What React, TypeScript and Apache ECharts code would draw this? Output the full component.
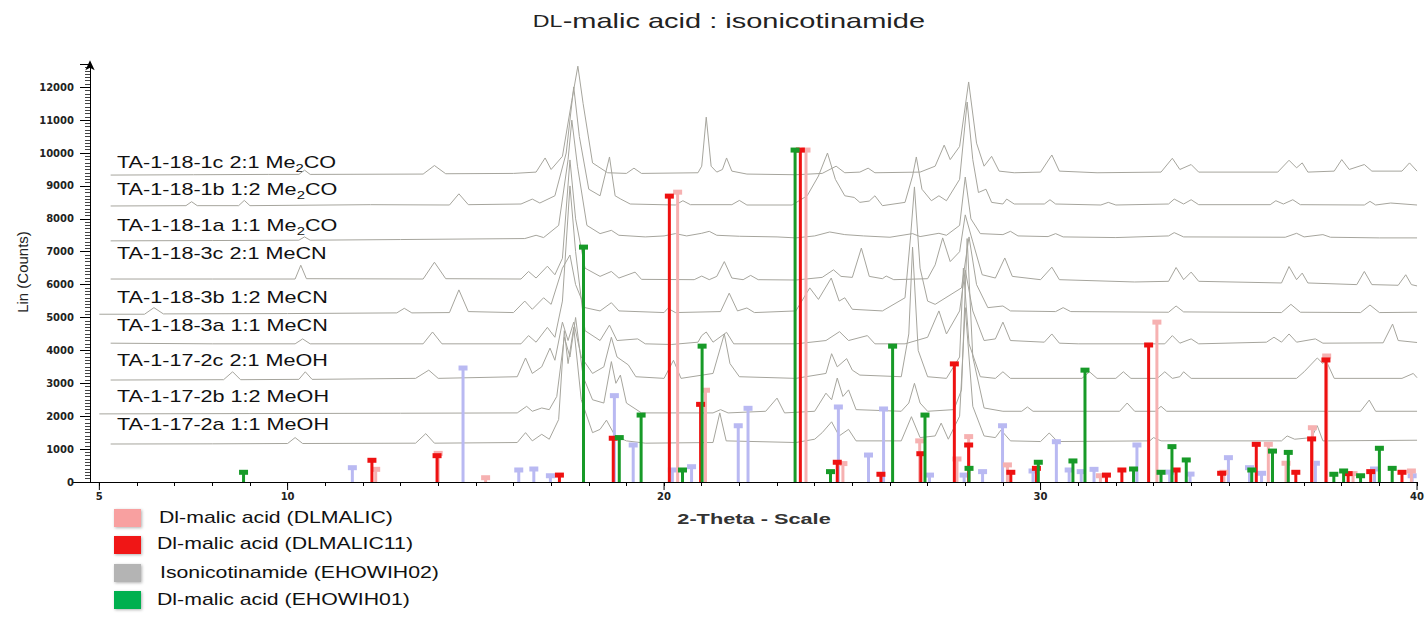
import React, { useEffect, useRef } from 'react';
import * as echarts from 'echarts';

const FONT = "'Liberation Sans', Arial, sans-serif";
const AXFONT = "'DejaVu Sans', sans-serif";

// ---- axis ticks / labels ----
const xLabelValues = [5, 10, 20, 30, 40];
const xMajorTicks = [5, 10, 20, 30, 40];

// ---- measured powder patterns: [2-theta, counts] ----
const trace1c: number[][] = [[5.3,9330],[7.5,9340],[9.5,9350],[10.3,9350],[10.45,9480],[10.6,9350],[13.6,9360],[13.9,9620],[14.2,9370],[16.0,9380],[16.6,9420],[16.84,9850],[17.0,9500],[17.3,9900],[17.55,11600],[17.71,12640],[17.85,11500],[18.1,9700],[18.5,9400],[19.0,9380],[19.2,9540],[19.4,9380],[20.9,9400],[21.0,9600],[21.12,11090],[21.25,9600],[21.4,9420],[21.55,9500],[21.66,9850],[21.8,9450],[22.2,9360],[23.5,9340],[24.2,9380],[24.57,9600],[24.8,9400],[25.2,9420],[25.42,9540],[25.6,9400],[26.8,9420],[27.2,9600],[27.44,10240],[27.6,9800],[27.85,10200],[28.09,12160],[28.3,10300],[28.5,9600],[28.7,9900],[28.9,9450],[29.3,9400],[30.0,9420],[30.3,9940],[30.5,9450],[31.5,9400],[33.2,9420],[33.5,9840],[33.7,9500],[34.0,9650],[34.2,9420],[36.3,9420],[36.6,9780],[36.8,9550],[36.95,9700],[37.1,9420],[37.8,9450],[38.0,9800],[38.2,9500],[38.6,9650],[38.8,9450],[39.6,9450],[39.8,9700],[40,9450]];
const trace1b: number[][] = [[5.3,8390],[7.3,8400],[7.45,8520],[7.6,8400],[8.7,8400],[8.85,8560],[9.0,8400],[12.2,8430],[14.3,8420],[14.55,8760],[14.8,8430],[16.2,8450],[16.5,8600],[16.7,8480],[17.1,8700],[17.4,10000],[17.6,12010],[17.75,10500],[18.0,8900],[18.3,8700],[18.55,9880],[18.7,8700],[18.85,8600],[19.1,8450],[20.3,8420],[20.5,8550],[20.7,8430],[21.8,8430],[22.0,8560],[22.2,8420],[23.4,8420],[23.8,8700],[24.1,9300],[24.34,10000],[24.55,9200],[24.8,8700],[25.05,8650],[25.2,8500],[25.45,8540],[25.6,8700],[25.8,8400],[26.4,8500],[26.6,9300],[26.7,9880],[26.85,8900],[27.1,8550],[27.3,8700],[27.5,8550],[27.85,9200],[28.05,11550],[28.2,9800],[28.35,8800],[28.55,8900],[28.7,8500],[29.0,8450],[29.1,8600],[29.3,8450],[30.1,8450],[30.25,8580],[30.4,8450],[31.6,8420],[31.8,8500],[32.0,8420],[33.4,8450],[33.55,8600],[33.8,8450],[34.0,8580],[34.2,8430],[36.1,8430],[36.25,8550],[36.45,8450],[36.7,8580],[36.9,8430],[38.6,8420],[38.75,8530],[38.9,8420],[39.3,8480],[40,8420]];
const trace1a: number[][] = [[5.3,7330],[8.0,7340],[10.3,7350],[10.45,7450],[10.6,7350],[13.0,7370],[16.3,7400],[16.6,7500],[16.8,7430],[17.2,7800],[17.45,9800],[17.55,11000],[17.7,9600],[17.95,7800],[18.3,7550],[18.6,7650],[18.8,7500],[19.5,7450],[20.0,7480],[20.3,7550],[20.6,7480],[21.0,7560],[21.2,7620],[21.4,7500],[22.0,7470],[23.0,7450],[23.5,7420],[24.0,7480],[24.4,7600],[24.8,7520],[25.3,7480],[26.0,7440],[26.6,7550],[26.8,7460],[27.3,7560],[27.5,7500],[27.85,7800],[28.0,9270],[28.15,8000],[28.4,7550],[29.0,7520],[29.2,7620],[29.4,7480],[30.2,7460],[30.4,7550],[30.6,7450],[32.0,7430],[33.4,7480],[33.55,7580],[33.8,7450],[36.5,7440],[36.8,7560],[37.0,7450],[37.5,7520],[37.7,7440],[39.0,7420],[40,7420]];
const trace3c: number[][] = [[5.3,6170],[8.0,6170],[10.2,6170],[10.35,6590],[10.5,6180],[13.6,6170],[13.9,6680],[14.2,6180],[16.2,6170],[16.4,6400],[16.6,6200],[16.9,6560],[17.1,6300],[17.3,6800],[17.5,9790],[17.65,8000],[17.9,6500],[18.3,6250],[18.6,6400],[18.8,6200],[19.23,6380],[19.4,6160],[20.8,6150],[21.0,6260],[21.2,6150],[21.4,6250],[21.6,6700],[21.8,6200],[22.1,6150],[22.3,6280],[22.5,6150],[23.5,6140],[24.2,6220],[24.5,6450],[24.7,6250],[25.0,6220],[25.24,7110],[25.45,6250],[25.8,6180],[25.9,6260],[26.1,6150],[27.0,6180],[27.2,6600],[27.4,7420],[27.6,6700],[27.85,7000],[28.0,8120],[28.2,7300],[28.45,6300],[28.8,6200],[29.05,6810],[29.25,6250],[30.0,6150],[30.3,6530],[30.5,6150],[32.5,6080],[33.4,6100],[33.6,6520],[33.8,6150],[34.0,6380],[34.2,6100],[36.4,6050],[36.6,6550],[36.8,6150],[36.95,6350],[37.1,6050],[38.4,6000],[38.6,6400],[38.8,6000],[39.5,5980],[39.7,6300],[39.85,6000],[40,5960]];
const trace3b: number[][] = [[5.0,5100],[6.2,5100],[6.45,5300],[6.7,5110],[10.0,5120],[12.9,5140],[13.1,5280],[13.3,5140],[14.3,5150],[14.55,5840],[14.8,5180],[16.0,5150],[16.3,5500],[16.5,5250],[16.8,5600],[17.0,5400],[17.3,6500],[17.5,6900],[17.65,6000],[17.9,5300],[18.3,5200],[18.6,5450],[18.8,5200],[20.0,5150],[20.1,5280],[20.3,5150],[21.5,5180],[21.73,5740],[21.95,5200],[22.2,5290],[22.4,5150],[23.5,5200],[23.87,5900],[24.1,5550],[24.44,6200],[24.65,5500],[24.8,5600],[25.0,5250],[25.8,5200],[26.4,5600],[26.55,7500],[26.65,8970],[26.8,6500],[27.0,5500],[27.2,5400],[27.9,5900],[28.1,7450],[28.3,6000],[28.6,5300],[29.0,5350],[29.2,5200],[30.4,5180],[30.6,5300],[30.8,5180],[33.4,5160],[33.6,5350],[33.8,5170],[36.4,5150],[36.65,5400],[36.9,5160],[38.5,5150],[38.75,5380],[39.0,5150],[40,5160]];
const trace3a: number[][] = [[5.3,4220],[8.0,4200],[10.2,4200],[10.4,4350],[10.6,4200],[13.6,4200],[13.85,4560],[14.1,4200],[16.2,4200],[16.4,4450],[16.6,4250],[16.9,4700],[17.1,4400],[17.3,5500],[17.5,9000],[17.65,7000],[17.9,4600],[18.3,4300],[18.55,4770],[18.75,4300],[19.3,4350],[19.5,4200],[20.2,4180],[20.9,4250],[21.0,4450],[21.12,4560],[21.3,4250],[21.66,4550],[21.85,4200],[23.5,4200],[24.3,4300],[24.66,4570],[24.9,4300],[25.4,4450],[25.6,4200],[26.4,4200],[27.0,4400],[27.3,5200],[27.5,4500],[27.85,5200],[28.0,6440],[28.2,5200],[28.5,4300],[28.8,4350],[29.0,4860],[29.2,4300],[30.1,4250],[30.3,4500],[30.5,4220],[31.0,4200],[33.3,4200],[33.5,4450],[33.7,4220],[34.0,4350],[34.2,4200],[36.0,4250],[36.2,4400],[36.4,4250],[36.6,4500],[36.8,4250],[37.3,4350],[37.5,4220],[39.1,4230],[39.35,4800],[39.5,4300],[40,4240]];
const trace2c: number[][] = [[5.3,3100],[8.3,3110],[8.54,3350],[8.75,3110],[10.3,3120],[10.47,3350],[10.65,3120],[13.4,3150],[13.75,3400],[14.0,3150],[16.1,3200],[16.32,3770],[16.5,3300],[16.75,3500],[16.97,4070],[17.1,3700],[17.3,4860],[17.45,4300],[17.6,4860],[17.8,3800],[18.1,3300],[18.4,3500],[18.6,4400],[18.75,3800],[19.05,3560],[19.25,3200],[20.0,3150],[20.25,3700],[20.45,3150],[21.3,3300],[21.5,4100],[21.6,4500],[21.75,3600],[22.0,3200],[23.5,3150],[24.3,3300],[24.45,3900],[24.6,3500],[24.85,3750],[25.0,3400],[25.2,3250],[26.3,3200],[26.5,4500],[26.6,7140],[26.75,4000],[27.0,3200],[27.5,3150],[27.85,3800],[27.95,6500],[28.1,4200],[28.4,3200],[28.8,3150],[29.0,3350],[29.2,3150],[31.1,3150],[31.3,3350],[31.5,3150],[32.0,3150],[32.2,3350],[32.4,3150],[33.1,3150],[33.3,3350],[33.5,3150],[33.7,3200],[33.8,3350],[34.0,3150],[36.8,3150],[37.0,3350],[37.35,3770],[37.5,3600],[37.58,3700],[37.8,3150],[39.6,3150],[39.9,3300],[40,3170]];
const trace2b: number[][] = [[5.0,2070],[9.0,2080],[13.0,2090],[16.1,2100],[16.35,2300],[16.5,2150],[16.75,2250],[16.95,2200],[17.15,2600],[17.35,4400],[17.5,3800],[17.65,5000],[17.85,3200],[18.1,2500],[18.4,2400],[18.6,3660],[18.72,3000],[18.84,3250],[19.0,2400],[19.4,2100],[20.1,2100],[21.3,2100],[21.5,2200],[21.7,2100],[22.7,2150],[23.0,2550],[23.2,2100],[24.0,2150],[24.3,2700],[24.45,2500],[24.6,3160],[24.75,2600],[24.9,2800],[25.1,2200],[26.3,2150],[26.5,2400],[26.65,3000],[26.8,2400],[27.0,2150],[27.7,2200],[27.9,2800],[28.05,7400],[28.2,3800],[28.5,2250],[29.0,2150],[29.5,2150],[29.65,2280],[29.8,2150],[32.1,2150],[32.3,2400],[32.5,2150],[33.05,2150],[33.2,2300],[33.35,2150],[38.5,2150],[38.73,2490],[38.9,2150],[40,2150]];
const trace2a: number[][] = [[5.3,1155],[8.0,1160],[10.0,1170],[10.2,1350],[10.4,1170],[13.4,1180],[13.67,1470],[13.9,1180],[16.1,1200],[16.32,1500],[16.5,1250],[16.75,1450],[16.95,1300],[17.2,1900],[17.35,4600],[17.45,3600],[17.6,4700],[17.8,2500],[18.1,1500],[18.3,1600],[18.47,1880],[18.7,1400],[19.0,1250],[19.5,1180],[21.3,1200],[21.48,2100],[21.65,1250],[23.5,1200],[24.0,1300],[24.2,1500],[24.45,1830],[24.65,1400],[24.9,1600],[25.1,1250],[26.3,1250],[26.57,1985],[26.8,1350],[27.2,1400],[27.36,1790],[27.55,1300],[27.85,2000],[28.0,5300],[28.2,2300],[28.5,1400],[28.8,1350],[28.95,1580],[29.2,1250],[30.0,1230],[30.23,1490],[30.45,1230],[32.9,1250],[33.0,1350],[33.2,1250],[36.4,1250],[36.55,1400],[36.75,1300],[37.2,1350],[37.35,1710],[37.5,1250],[40,1270]];

const traceNames = ['TA-1-18-1c', 'TA-1-18-1b', 'TA-1-18-1a', 'TA-1-18-3c', 'TA-1-18-3b', 'TA-1-18-3a', 'TA-1-17-2c', 'TA-1-17-2b', 'TA-1-17-2a'];
const traceRatios = ['2:1', '1:2', '1:1', '2:1', '1:2', '1:1', '2:1', '1:2', '1:1'];
const traceSolvents = ['Me2CO', 'Me2CO', 'Me2CO', 'MeCN', 'MeCN', 'MeCN', 'MeOH', 'MeOH', 'MeOH'];
const traces = [trace1c, trace1b, trace1a, trace3c, trace3b, trace3a, trace2c, trace2b, trace2a];

// ---- reference stick patterns: [2-theta, counts] ----
const dlmalic: number[][] = [[12.34,385],[14.0,870],[15.26,130],[20.36,8810],[21.1,2790],[23.77,10090],[24.75,560],[26.79,1250],[27.78,700],[28.09,1380],[29.12,520],[31.59,190],[33.09,4860],[34.87,295],[36.05,1145],[36.52,570],[37.22,1650],[37.6,3830],[38.3,255],[39.85,335]];
const dlmalic11: number[][] = [[12.24,660],[13.97,800],[17.22,210],[18.65,1330],[20.14,8690],[20.97,2360],[23.62,10090],[24.6,600],[25.76,235],[26.82,860],[27.71,3590],[28.09,1125],[29.21,295],[29.89,415],[31.75,210],[32.16,365],[32.87,4165],[33.6,365],[34.81,265],[35.73,1145],[36.78,295],[37.2,1310],[37.58,3710],[38.17,255],[38.77,315],[39.6,295]];
const ehowih02: number[][] = [[11.72,435],[14.66,3465],[16.14,365],[16.54,395],[16.98,190],[18.68,2625],[19.18,1125],[20.22,365],[20.73,465],[21.97,1710],[22.23,2240],[24.63,2280],[25.43,820],[25.83,2220],[27.05,210],[27.97,210],[28.46,315],[28.99,1710],[29.8,335],[30.42,1225],[30.76,365],[31.08,315],[31.42,385],[32.56,1125],[33.43,300],[33.97,240],[34.99,740],[35.55,435],[35.87,265],[37.3,570],[38.87,395],[39.87,190]];
const ehowih01: number[][] = [[8.83,295],[17.86,7140],[18.81,1350],[19.39,2035],[20.49,365],[21.01,4130],[23.48,10090],[24.42,315],[26.07,4130],[26.93,2035],[28.1,415],[29.94,600],[30.86,640],[31.18,3400],[32.47,395],[33.2,295],[33.49,1075],[33.87,670],[35.61,365],[36.16,940],[36.58,900],[37.79,235],[38.05,335],[38.5,190],[39.0,1025],[39.34,415]];

const legendNames = ['Dl-malic acid (DLMALIC)', 'Dl-malic acid (DLMALIC11)', 'Isonicotinamide (EHOWIH02)', 'Dl-malic acid (EHOWIH01)'];
const legendColors = ['#f8a0a0', '#f01414', '#b4b4b4', '#00b050'];
const stickColors = ['#f6b1b1', '#ee1111', '#b9b9f2', '#179a28'];
const stickSets = [ehowih02, dlmalic, dlmalic11, ehowih01];
const stickSetColors = [stickColors[2], stickColors[0], stickColors[1], stickColors[3]];
const stickSetNames = [legendNames[2], legendNames[0], legendNames[1], legendNames[3]];

const labelY = [163, 190, 226, 254, 298, 326, 361, 397, 425];
const legendRowY = [509, 536, 564, 591];
const legendTextY = [517, 543, 572, 599];
const legendTextX = [159, 157, 160, 157];

function stickRender(color: string) {
  return (params: any, api: any) => {
    const x = api.value(0);
    const h = api.value(1);
    const top = api.coord([x, h]);
    const base = api.coord([x, 0]);
    return {
      type: 'group',
      children: [
        { type: 'rect', shape: { x: top[0] - 1.5, y: top[1], width: 3, height: base[1] - top[1] }, style: { fill: color } },
        { type: 'rect', shape: { x: top[0] - 4.5, y: top[1] - 2.5, width: 9, height: 5 }, style: { fill: color } },
      ],
    };
  };
}

function majorTickRender(params: any, api: any) {
  const p = api.coord([api.value(0), 0]);
  return {
    type: 'line',
    shape: { x1: p[0], y1: p[1], x2: p[0], y2: p[1] + 8 },
    style: { stroke: '#000', lineWidth: 1 },
  };
}

function buildOption() {
  const xMinor: number[] = [];
  for (let v = 5; v <= 40; v++) xMinor.push(v);

  const lineSeries = traces.map((d, i) => ({
    type: 'line',
    name: traceNames[i],
    data: d,
    showSymbol: false,
    symbol: 'none',
    lineStyle: { color: '#a6a59d', width: 1 },
    z: 2,
    silent: true,
  }));
  const stickSeries = stickSets.map((d, i) => ({
    type: 'custom',
    name: stickSetNames[i],
    data: d,
    encode: { x: 0, y: 1 },
    renderItem: stickRender(stickSetColors[i]),
    z: 3 + i,
    silent: true,
  }));
  const tickSeries = {
    type: 'custom',
    name: 'major ticks',
    data: xMajorTicks.map((v) => [v, 0]),
    encode: { x: 0, y: 1 },
    renderItem: majorTickRender,
    clip: false,
    z: 10,
    silent: true,
  };

  const graphics: any[] = [];
  graphics.push({
    type: 'text', x: 729, y: 21, scaleX: 1.45,
    style: {
      text: '{s|DL}{n|-malic acid : isonicotinamide}',
      align: 'center', verticalAlign: 'middle',
      rich: { s: { fontSize: 16, fontFamily: FONT, fill: '#222' }, n: { fontSize: 20, fontFamily: FONT, fill: '#222' } },
    },
  });
  graphics.push({
    type: 'text', x: 22, y: 272, rotation: Math.PI / 2,
    style: { text: 'Lin (Counts)', fontSize: 15, fontFamily: FONT, fill: '#222', align: 'center', verticalAlign: 'middle' },
  });
  graphics.push({
    type: 'text', x: 754, y: 519, scaleX: 1.45,
    style: { text: '2-Theta - Scale', fontSize: 15, fontWeight: 'bold', fontFamily: FONT, fill: '#333', align: 'center', verticalAlign: 'middle' },
  });
  traceNames.forEach((n, i) => {
    const solv = traceSolvents[i];
    const text = solv === 'Me2CO'
      ? `{a|${n} ${traceRatios[i]} Me}{s|2}{a|CO}`
      : `{a|${n} ${traceRatios[i]} ${solv}}`;
    graphics.push({
      type: 'text', x: 117, y: labelY[i], scaleX: 1.35,
      style: {
        text, align: 'left', verticalAlign: 'middle',
        rich: {
          a: { fontSize: 16, fontFamily: FONT, fill: '#111' },
          s: { fontSize: 11, fontFamily: FONT, fill: '#111', padding: [10, 0, 0, 0] },
        },
      },
    });
  });
  legendNames.forEach((n, i) => {
    graphics.push({
      type: 'rect', shape: { x: 114, y: legendRowY[i], width: 27, height: 18 },
      style: { fill: legendColors[i], shadowBlur: 3, shadowColor: 'rgba(0,0,0,0.3)', shadowOffsetX: 1, shadowOffsetY: 1 },
    });
    graphics.push({
      type: 'text', x: legendTextX[i], y: legendTextY[i], scaleX: 1.33,
      style: { text: n, fontSize: 16, fontFamily: FONT, fill: '#111', align: 'left', verticalAlign: 'middle' },
    });
  });

  const plainNum = (v: number) => String(v);

  return {
    animation: false,
    backgroundColor: '#ffffff',
    grid: { left: 73, right: 6.2, top: 64.2, bottom: 139, containLabel: false },
    xAxis: {
      type: 'value', min: 4.3, max: 40, position: 'bottom',
      axisLine: { show: true, onZero: false, lineStyle: { color: '#000', width: 1 } },
      axisTick: { show: true, customValues: xMinor, length: 4, lineStyle: { color: '#000' } },
      axisLabel: { customValues: xLabelValues, formatter: plainNum, fontFamily: AXFONT, fontWeight: 'bold', fontSize: 10, color: '#222', margin: 9 },
      splitLine: { show: false },
    },
    yAxis: {
      type: 'value', min: 0, max: 12700, interval: 1000, position: 'left', offset: -17,
      axisLine: { show: true, lineStyle: { color: '#000', width: 1 }, symbol: ['none', 'arrow'], symbolSize: [7, 10], symbolOffset: [0, 4] },
      axisTick: { show: true, length: 10, lineStyle: { color: '#000' } },
      minorTick: { show: true, splitNumber: 10, length: 5, lineStyle: { color: '#444' } },
      axisLabel: { showMaxLabel: false, formatter: plainNum, fontFamily: AXFONT, fontWeight: 'bold', fontSize: 10, color: '#222', margin: 16 },
      splitLine: { show: false },
    },
    series: [...lineSeries, ...stickSeries, tickSeries],
    graphic: graphics,
  };
}

export default function App() {
  const ref = useRef<HTMLDivElement>(null);
  useEffect(() => {
    document.body.style.margin = '0';
    const chart = echarts.init(ref.current as HTMLDivElement, null, { renderer: 'svg' });
    chart.setOption(buildOption() as any);
    return () => chart.dispose();
  }, []);
  return <div ref={ref} style={{ width: 1427, height: 621 }} />;
}
